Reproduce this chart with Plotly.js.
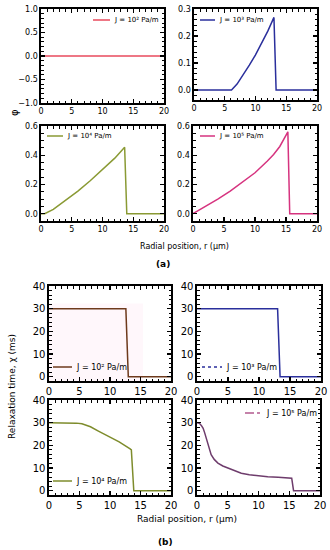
<!DOCTYPE html>
<html><head><meta charset="utf-8">
<script src="https://cdn.plot.ly/plotly-3.0.1.min.js"></script>
<style>html,body{margin:0;padding:0;background:#fff;}#chart{width:330px;height:550px;}</style>
</head><body><div id="chart"></div>
<script>
// ---- data ----
var legendLabels = ["J = 10² Pa/m","J = 10³ Pa/m","J = 10⁴ Pa/m","J = 10⁵ Pa/m"];
// (a) phi profiles
var phiX_J2 = [0, 20];
var phiY_J2 = [0, 0];
var phiX_J3 = [0, 6.1, 7, 8, 9, 10, 11, 12, 13.0, 13.35, 20];
var phiY_J3 = [0, 0, 0.022, 0.055, 0.092, 0.13, 0.172, 0.218, 0.269, 0, 0];
var phiX_J4 = [0, 0.6, 2, 4, 6, 8, 10, 12, 13.6, 13.95, 20];
var phiY_J4 = [0, 0, 0.03, 0.09, 0.155, 0.225, 0.30, 0.38, 0.455, 0, 0];
var phiX_J5 = [0, 2, 4, 6, 8, 10, 12, 13, 14, 15.3, 15.6, 20];
var phiY_J5 = [0, 0.048, 0.1, 0.155, 0.215, 0.28, 0.36, 0.405, 0.46, 0.56, 0, 0];
// (b) relaxation time profiles
var chiX_J2 = [0, 12.6, 13.0, 20];
var chiY_J2 = [30, 30, 0, 0];
var chiX_J3 = [0, 13.0, 13.4, 20];
var chiY_J3 = [30, 30, 0, 0];
var chiX_J4 = [0, 3.5, 4.5, 5.4, 6.8, 8.1, 10.1, 11.5, 13.3, 13.5, 13.9, 20];
var chiY_J4 = [30, 30, 29.8, 29.5, 28.2, 26.3, 23.6, 21.5, 18.4, 18, 0, 0];
var chiX_J5 = [0, 0.2, 0.4, 0.7, 1.0, 1.25, 1.5, 1.7, 2.0, 2.3, 2.8, 3.4, 4.2, 5, 6, 7.2, 8.5, 10.1, 11.5, 13.2, 15.4, 15.7, 20];
var chiY_J5 = [30, 29.9, 29.7, 28.8, 27.5, 25.5, 23.0, 21, 18.2, 15.9, 13.8, 12.2, 10.9, 10, 8.8, 7.7, 7.0, 6.5, 6.2, 5.9, 5.5, 0, 0];
// faint pink band behind J=10^2 relaxation curve
var bandX = [0, 15.4, 15.4, 0];
var bandY = [-1.9, -1.9, 32.3, 32.3];

// ---- styles ----
var FONT = "DejaVu Sans";
var W = 330, H = 550;
function px(x){return x/W;}
function py(y){return 1 - y/H;}

var cRed = "#e84a5c", cBlue = "#2a2f9c", cOlive = "#8a9a34", cPink = "#d6337f";
var cBrown = "#6e3a1c", cOlive2 = "#7e8c2c", cPurple = "#6e3c6c", cPurpleLeg = "#b25a8e";

function tr(x, y, xa, ya, color, w){
  return {x:x, y:y, xaxis:xa, yaxis:ya, type:"scatter", mode:"lines",
    line:{color:color, width:w||1.5}, hoverinfo:"skip"};
}
var data = [
  {x:bandX, y:bandY, xaxis:"x5", yaxis:"y5", type:"scatter", mode:"lines", fill:"toself",
   fillcolor:"rgba(255,190,220,0.12)", line:{width:0}, hoverinfo:"skip"},
  tr(phiX_J2, phiY_J2, "x", "y", cRed),
  tr(phiX_J3, phiY_J3, "x2", "y2", cBlue),
  tr(phiX_J4, phiY_J4, "x3", "y3", cOlive),
  tr(phiX_J5, phiY_J5, "x4", "y4", cPink),
  tr(chiX_J2, chiY_J2, "x5", "y5", cBrown),
  tr(chiX_J3, chiY_J3, "x6", "y6", cBlue),
  tr(chiX_J4, chiY_J4, "x7", "y7", cOlive2),
  tr(chiX_J5, chiY_J5, "x8", "y8", cPurple)
];

function xax(dom, anchor, fs){
  return {domain:[px(dom[0]), px(dom[1])], anchor:anchor, range:[0,20], tickmode:"linear", tick0:0, dtick:5,
    showline:true, linecolor:"#000", linewidth:1.6, mirror:"allticks", ticks:"inside", ticklen:4,
    tickwidth:1.2, tickcolor:"#000", showgrid:false, zeroline:false,
    minor:{ticks:"inside", ticklen:2.5, tickmode:"linear", tick0:0, dtick:1, tickcolor:"#000", tickwidth:1, showgrid:false},
    tickfont:{family:FONT, size:fs, color:"#000"}, fixedrange:true};
}
function yax(dom, anchor, range, dt, fmt, mdt, fs){
  return {domain:[py(dom[1]), py(dom[0])], anchor:anchor, range:range, tickmode:"linear", tick0:0, dtick:dt, tickformat:fmt,
    showline:true, linecolor:"#000", linewidth:1.6, mirror:"allticks", ticks:"inside", ticklen:4,
    tickwidth:1.2, tickcolor:"#000", showgrid:false, zeroline:false,
    minor:{ticks:"inside", ticklen:2.5, tickmode:"linear", tick0:0, dtick:mdt, tickcolor:"#000", tickwidth:1, showgrid:false},
    tickfont:{family:FONT, size:fs, color:"#000"}, fixedrange:true};
}
var fa = 8, fb = 10;
var layout = {
  width:W, height:H, margin:{l:0,r:0,t:0,b:0}, paper_bgcolor:"#fff", plot_bgcolor:"#fff",
  showlegend:false,
  xaxis:  xax([41,164], "y", fa),
  yaxis:  yax([9,103], "x", [-1,1.0001], 0.5, ".1f", 0.1, fa),
  xaxis2: xax([194,317], "y2", fa),
  yaxis2: yax([9,100], "x2", [-0.037,0.3001], 0.1, ".1f", 0.02, fa),
  xaxis3: xax([41,164], "y3", fa),
  yaxis3: yax([126,221], "x3", [-0.05,0.6001], 0.2, ".1f", 0.05, fa),
  xaxis4: xax([193,317], "y4", fa),
  yaxis4: yax([126,221], "x4", [-0.05,0.6001], 0.2, ".1f", 0.05, fa),
  xaxis5: xax([49,171], "y5", fb),
  yaxis5: yax([286,381], "x5", [-1.9,40], 10, "d", 2, fb),
  xaxis6: xax([197,321], "y6", fb),
  yaxis6: yax([286,381], "x6", [-1.9,40], 10, "d", 2, fb),
  xaxis7: xax([49,171], "y7", fb),
  yaxis7: yax([400,495], "x7", [-1.9,40], 10, "d", 2, fb),
  xaxis8: xax([197,320], "y8", fb),
  yaxis8: yax([400,495], "x8", [-1.9,40], 10, "d", 2, fb),
  shapes:[], annotations:[]
};

function legend(x0, x1, y, textX, color, dash, label, fs){
  layout.shapes.push({type:"line", xref:"paper", yref:"paper", x0:px(x0), x1:px(x1), y0:py(y), y1:py(y),
    line:{color:color, width:1.5, dash:dash||"solid"}});
  layout.annotations.push({xref:"paper", yref:"paper", x:px(textX), y:py(y), xanchor:"left", yanchor:"middle",
    text:label, showarrow:false, font:{family:FONT, size:fs, color:"#000"}});
}
legend(93, 110, 20, 112, cRed, "solid", legendLabels[0], 7);
legend(200, 215, 20, 217, cBlue, "solid", legendLabels[1], 7);
legend(47, 63, 136, 65, cOlive, "solid", legendLabels[2], 7);
legend(200, 215, 136, 217, cPink, "solid", legendLabels[3], 7);
legend(53, 72, 367, 74, cBrown, "solid", legendLabels[0], 8);
legend(202, 222, 367, 224, cBlue, "dot", legendLabels[1], 8);
legend(53, 72, 481, 74, cOlive2, "solid", legendLabels[2], 8);
legend(245, 262, 413, 264, cPurpleLeg, "dashdot", legendLabels[3], 8);

function ann(x, y, text, fs, angle, bold){
  layout.annotations.push({xref:"paper", yref:"paper", x:px(x), y:py(y), xanchor:"center", yanchor:"middle",
    text:text, showarrow:false, textangle:angle||0, font:{family:FONT, size:fs, color:"#000", weight:bold?"bold":"normal"}});
}
ann(14, 113, "φ", 10, -90);
ann(184, 246, "Radial position, r (μm)", 8);
ann(163, 264, "(a)", 9, 0, true);
ann(12, 387, "Relaxation time, χ (ms)", 9, -90);
ann(187, 519, "Radial position, r (μm)", 9);
ann(165, 542, "(b)", 9, 0, true);

Plotly.newPlot("chart", data, layout, {staticPlot:true, displayModeBar:false});
</script></body></html>
